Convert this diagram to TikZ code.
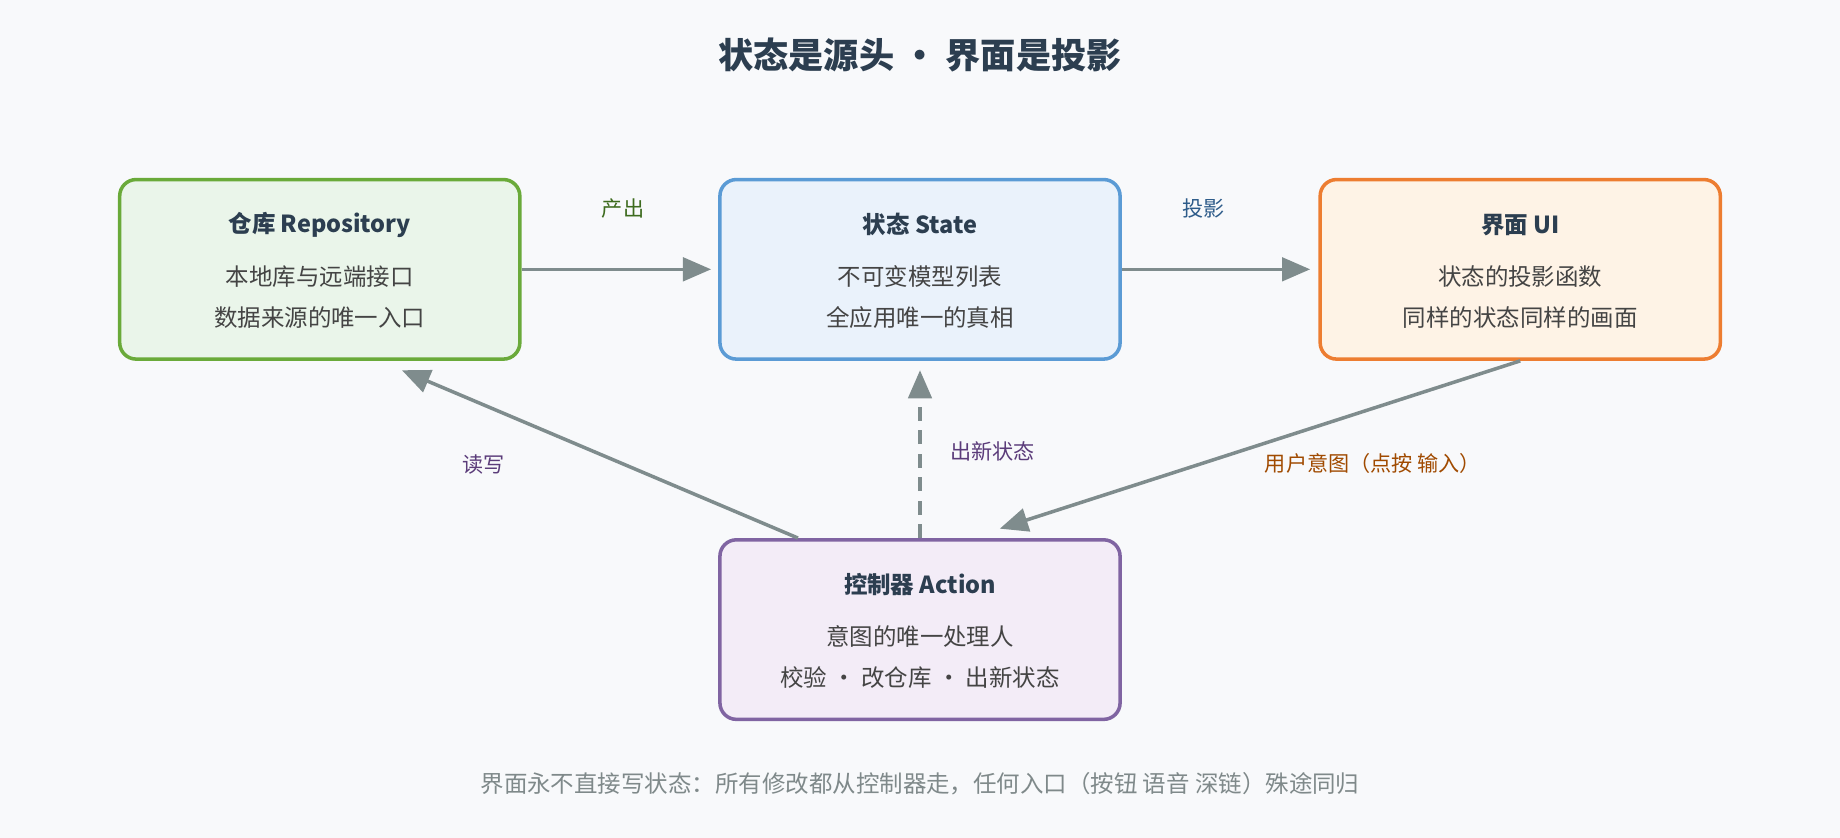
\documentclass[tikz,border=0pt]{standalone}
\usepackage{fontspec}
\setmainfont{Noto Sans CJK SC}
\usetikzlibrary{arrows.meta,calc}
\definecolor{bg}{HTML}{F8F9FB}
\definecolor{ink}{HTML}{2C3E50}
\definecolor{sub}{HTML}{444444}
\definecolor{arr}{HTML}{7F8C8D}
\definecolor{gB}{HTML}{6AAA3A}\definecolor{gF}{HTML}{EAF5EA}
\definecolor{bB}{HTML}{5B9BD5}\definecolor{bF}{HTML}{EAF2FB}
\definecolor{oB}{HTML}{ED7D31}\definecolor{oF}{HTML}{FEF3E6}
\definecolor{pB}{HTML}{8064A2}\definecolor{pF}{HTML}{F3ECF7}
\definecolor{lg}{HTML}{3D6B1E}\definecolor{lb}{HTML}{2E5C8A}
\definecolor{lo}{HTML}{A04A00}\definecolor{lp}{HTML}{5B3C7A}
\begin{document}
\begin{tikzpicture}[x=0.5pt,y=-0.5pt,
  box/.style={draw=#1,line width=1.5pt,rounded corners=7pt,minimum width=170.5pt,minimum height=76.5pt},
  ttl/.style={font=\bfseries\fontsize{10}{12}\selectfont,text=ink},
  sl/.style={font=\fontsize{10}{12}\selectfont,text=sub},
  lab/.style={font=\fontsize{9}{11}\selectfont},
  ar/.style={draw=arr,line width=1.5pt,-{Triangle[length=12pt,width=10pt]}}]
\fill[bg] (0,0) rectangle (1568,714);
\useasboundingbox (0,0) rectangle (1568,714);
\node[ttl,font=\bfseries\fontsize{15}{18}\selectfont] (title) at (784,47) {状态是源头 · 界面是投影};
\node[box=gB,fill=gF] (repo) at (272.5,229.5) {};
\node[box=bB,fill=bF] (state) at (784,229.5) {};
\node[box=oB,fill=oF] (ui) at (1295.5,229.5) {};
\node[box=pB,fill=pF] (act) at (784,536.5) {};
\foreach \n/\a/\b/\c in {repo/仓库 Repository/本地库与远端接口/数据来源的唯一入口,
  state/状态 State/不可变模型列表/全应用唯一的真相,
  ui/界面 UI/状态的投影函数/同样的状态同样的画面,
  act/控制器 Action/意图的唯一处理人/校验 · 改仓库 · 出新状态}{
  \node[ttl] (\n-t) at ($(\n)+(0,-38)$) {\a};
  \node[sl] (\n-a) at ($(\n)+(0,6)$) {\b};
  \node[sl] (\n-b) at ($(\n)+(0,41)$) {\c};
}
\draw[ar] (repo.east) -- ($(state.west)+(-6,0)$);
\node[lab,text=lg] (l1) at (531,178) {产出};
\draw[ar] (state.east) -- ($(ui.west)+(-7,0)$);
\node[lab,text=lb] (l2) at (1026,178) {投影};
\draw[ar] (ui.south) -- ($(act.north)+(68,-8)$);
\node[lab,text=lo] (l3) at (1170,395) {用户意图（点按 输入）};
\draw[ar] ($(act.north)+(-104,0)$) -- ($(repo.south)+(70,8)$);
\node[lab,text=lp] (l4) at (412,396) {读写};
\draw[ar,dash pattern=on 6pt off 4pt] (act.north) -- ($(state.south)+(0,8)$);
\node[lab,text=lp] (l5) at (846,385) {出新状态};
\node[font=\fontsize{10}{12}\selectfont,text=arr!80!gray] (foot) at (784,668) {界面永不直接写状态：所有修改都从控制器走，任何入口（按钮 语音 深链）殊途同归};
\end{tikzpicture}
\end{document}
